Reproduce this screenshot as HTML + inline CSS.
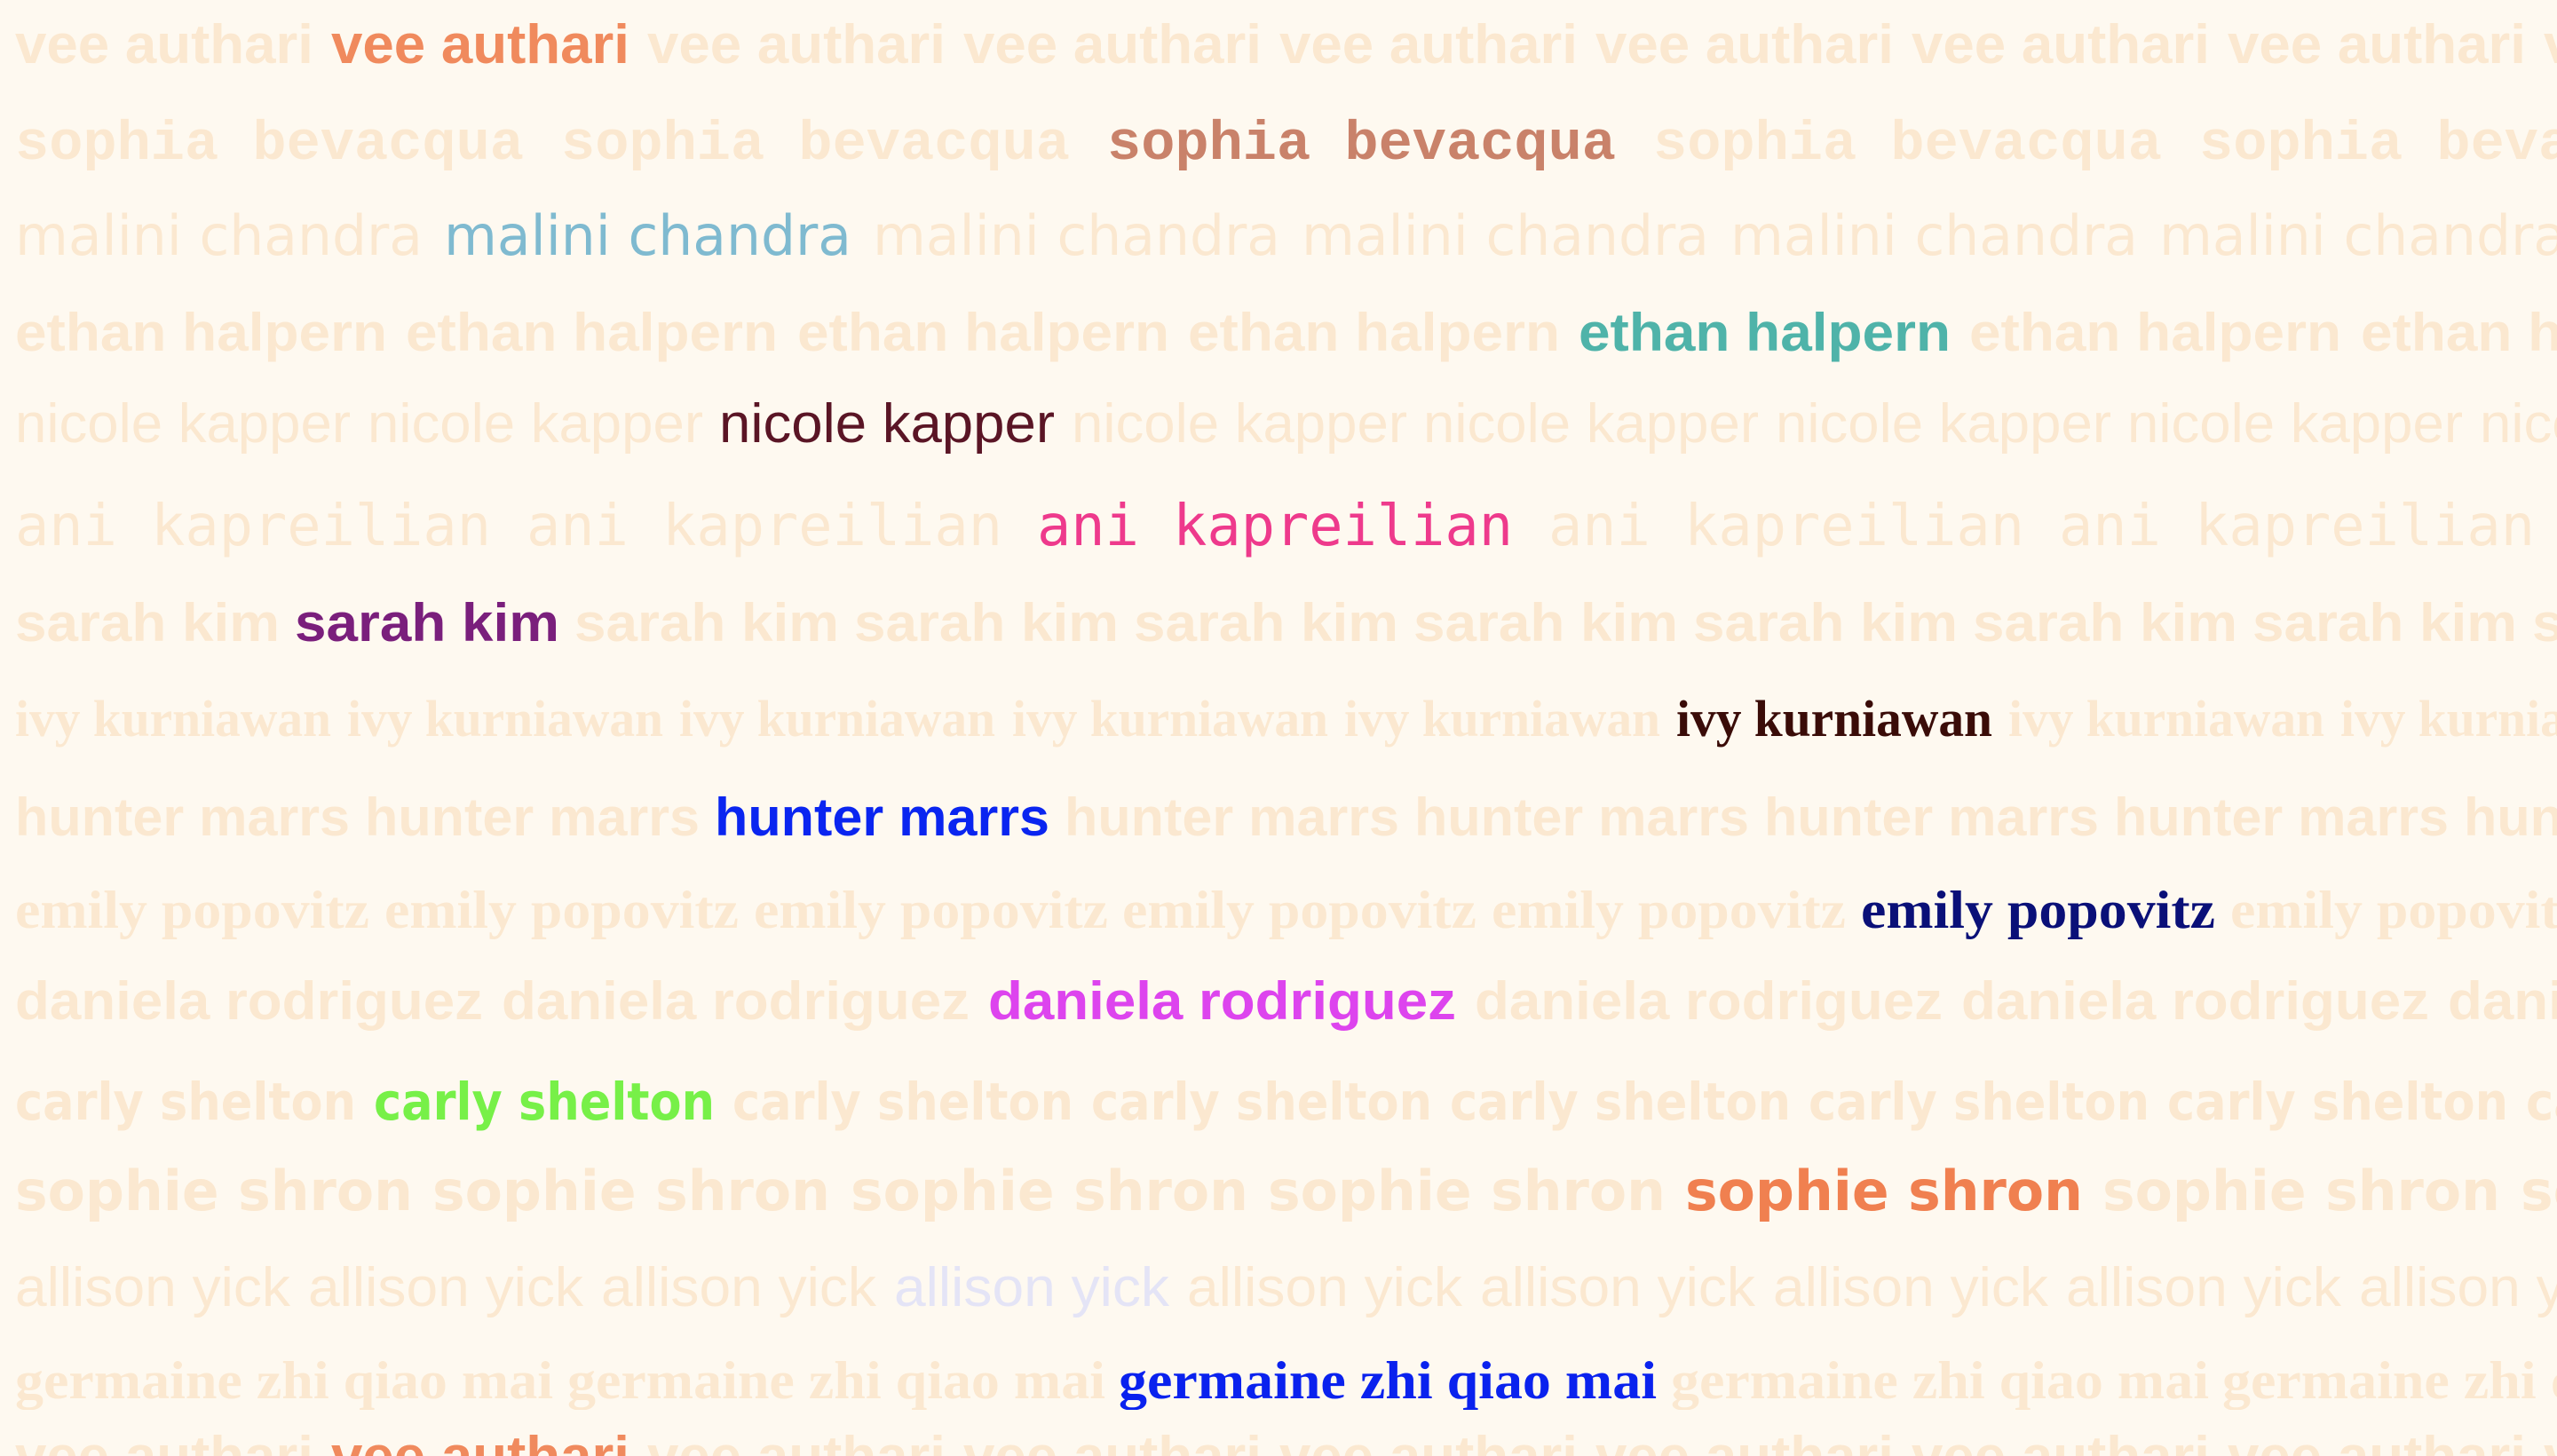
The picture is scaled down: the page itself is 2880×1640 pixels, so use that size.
<!DOCTYPE html>
<html><head><meta charset="utf-8">
<style>
html,body{margin:0;padding:0;background:#fef9f0;}
#stage{position:relative;width:2880px;height:1640px;overflow:hidden;background:#fef9f0;}
.n{position:absolute;white-space:nowrap;transform-origin:0 0;line-height:1;}
</style></head>
<body>
<div id="stage"></div>
<script>
const names=["vee authari","sophia bevacqua","malini chandra","ethan halpern","nicole kapper","ani kapreilian","sarah kim","ivy kurniawan","hunter marrs","emily popovitz","daniela rodriguez","carly shelton","sophie shron","allison yick","germaine zhi qiao mai","vee authari"];
const colors=["#f08a5d","#c9826a","#7fbad0","#4fb3a9","#5a1525","#ee3a8c","#7a1f7c","#3a0c08","#0a25f0","#0a1078","#dd44ee","#77f048","#f08050","#e4e4f6","#0a22ee","#f08a5d"];
const hiIndex=[1,2,1,4,2,2,1,5,2,5,2,1,4,3,2,1];
const hiX=[373,1247,500,1778,810,1168,332,1888,805,2096,1113,421,1898,1007,1260,373];
const widths=[336,573,459,419,378,536,298,356,377,399,527,384,448,310,606,336];
const baselines=[76,188,291,399,503,619,726,833,945,1049,1152,1264,1367,1476,1579,1666];
const fonts=[
 ['"Liberation Sans Narrow","Liberation Sans",sans-serif',700,62],
 ['"Liberation Mono",monospace',700,62],
 ['"DejaVu Sans","Liberation Sans",sans-serif',400,62],
 ['"Liberation Sans",sans-serif',700,60],
 ['"Liberation Sans Narrow","Liberation Sans",sans-serif',400,62],
 ['"DejaVu Sans Mono","Liberation Mono",monospace',400,64],
 ['"Liberation Sans",sans-serif',700,60],
 ['"Liberation Serif",serif',700,58],
 ['"Liberation Sans",sans-serif',700,60],
 ['"Liberation Serif",serif',700,60],
 ['"Liberation Sans",sans-serif',700,60],
 ['"DejaVu Sans","Liberation Sans",sans-serif',700,58],
 ['"DejaVu Sans","Liberation Sans",sans-serif',700,62],
 ['"Liberation Sans Narrow","Liberation Sans",sans-serif',400,62],
 ['"Liberation Serif",serif',700,60],
 ['"Liberation Sans Narrow","Liberation Sans",sans-serif',700,62]
];
const faded="#fbe8d0";
const startX=17;
const stage=document.getElementById('stage');
names.forEach((nm,r)=>{
  const f=fonts[r];
  const W=widths[r];
  const unit=(hiX[r]-startX)/hiIndex[r];
  for(let k=0;;k++){
    const x=startX+k*unit;
    if(x>2880)break;
    const s=document.createElement('span');
    s.className='n';
    s.textContent=nm;
    const hi=(k===hiIndex[r]);
    
    
    s.style.fontFamily=f[0];
    s.style.fontWeight=f[1];
    s.style.fontSize=f[2]+'px';
    s.style.color=hi?colors[r]:faded;
    stage.appendChild(s);
    const nw=s.getBoundingClientRect().width;
    s.style.left=x+'px';
    s.style.top=(baselines[r]-f[2]*0.9)+'px';
    s.style.transform='scaleX('+(W/nw)+')';
  }
});
</script>
</body></html>
